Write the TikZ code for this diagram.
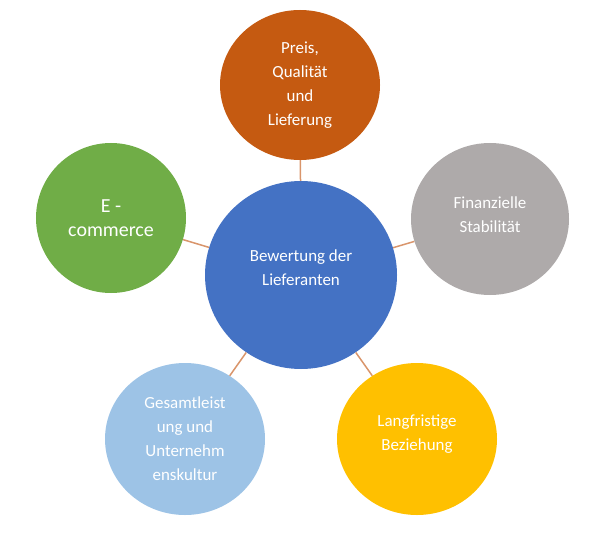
\documentclass[tikz,border=0pt]{standalone}
\usepackage{fontspec}
\setmainfont{Carlito}
\usepackage{tikz}
\usetikzlibrary{shapes.geometric}

\definecolor{rustorange}{HTML}{C55A11}
\definecolor{midblue}{HTML}{4472C4}
\definecolor{stonegray}{HTML}{AEAAAA}
\definecolor{leafgreen}{HTML}{70AD47}
\definecolor{paleblue}{HTML}{9DC3E6}
\definecolor{goldyellow}{HTML}{FFC000}
\definecolor{linkcolor}{HTML}{D9956B}

\tikzset{
	bubble/.style={ellipse, inner sep=0pt},
	caption/.style={text=white, align=center, inner sep=0pt,
		font=\fontsize{17}{24}\selectfont},
	link/.style={draw=linkcolor, line width=1.5bp}
}

\begin{document}
\begin{tikzpicture}[x=1bp, y=-1bp]

	\useasboundingbox (0,0) rectangle (597,541);

	% Middle
	\node[bubble, fill=midblue, minimum width=192bp, minimum height=188bp] (mid) at (301,275) {};
	\node[caption] (midtext) at ([yshift=7bp]mid.center) {Bewertung der\\Lieferanten};

	% Outer circles
	\node[bubble, fill=rustorange, minimum width=160bp, minimum height=150bp] (price) at (300,85) {};
	\node[caption] (pricetext) at (price.center) {Preis,\\Qualität\\und\\Lieferung};

	\node[bubble, fill=stonegray, minimum width=158bp, minimum height=152bp] (finance) at (490,219) {};
	\node[caption] (financetext) at ([yshift=4bp]finance.center) {Finanzielle\\Stabilität};

	\node[bubble, fill=goldyellow, minimum width=160bp, minimum height=152bp] (relation) at (417,439) {};
	\node[caption] (relationtext) at ([yshift=5bp]relation.center) {Langfristige\\Beziehung};

	\node[bubble, fill=paleblue, minimum width=160bp, minimum height=152bp] (culture) at (185,439) {};
	\node[caption] (culturetext) at (culture.center) {Gesamtleist\\ung und\\Unternehm\\enskultur};

	\node[bubble, fill=leafgreen, minimum width=150bp, minimum height=150bp] (ecom) at (111,218) {};
	\node[caption, font=\fontsize{20}{24}\selectfont] (ecomtext) at (ecom.center) {E -\\commerce};

	% Connectors
	\draw[link] (mid) -- (price);
	\draw[link] (mid) -- (finance);
	\draw[link] (mid) -- (relation);
	\draw[link] (mid) -- (culture);
	\draw[link] (mid) -- (ecom);

\end{tikzpicture}
\end{document}
